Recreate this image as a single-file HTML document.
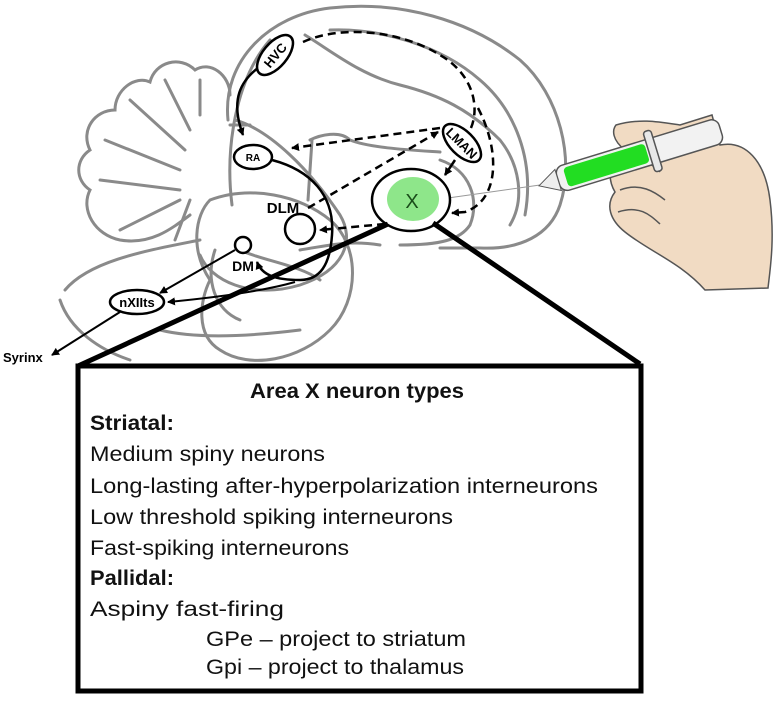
<!DOCTYPE html>
<html><head><meta charset="utf-8"><style>
html,body{margin:0;padding:0;background:#fff;}
svg{display:block}
</style></head><body>
<svg width="779" height="707" viewBox="0 0 779 707" xmlns="http://www.w3.org/2000/svg" font-family="Liberation Sans, sans-serif">
<defs>
<marker id="ah" markerWidth="8" markerHeight="8" refX="7" refY="4" orient="auto" markerUnits="userSpaceOnUse"><path d="M0,0 L8,4 L0,8 Z" fill="#000"/></marker>
</defs>
<g fill="none" stroke="#8a8a8a" stroke-width="3" stroke-linecap="round">
<path d="M228,120 C222,60 270,15 330,8 C400,0 470,20 520,60 C560,95 575,160 560,205 C550,235 520,250 480,248 L440,248"/>
<path d="M232,205 C225,150 235,80 270,40"/>
<path d="M305,35 C330,50 360,75 400,85 C440,95 470,110 500,140 C520,165 525,200 510,225"/>
<path d="M330,30 C380,28 440,45 480,80 C515,110 535,160 525,215"/>
<path d="M235,120 C270,130 310,170 340,215 C355,240 345,270 300,285 C250,300 210,280 200,255"/>
<path d="M310,140 C320,135 340,130 350,140 C370,148 410,150 440,152"/>
<path d="M312,140 L308,200"/>
<path d="M230,125 L250,125"/>
<path d="M440,160 C470,170 480,200 470,225 C460,240 440,245 400,245"/>
<path d="M300,250 C330,245 350,240 380,245"/>
<path d="M210,200 C250,185 300,195 330,220 C360,245 360,300 330,330 C300,360 250,370 220,350 C195,335 200,300 210,280 C190,250 195,215 210,200 Z"/>
<path d="M240,250 C260,260 300,265 320,280"/>
<path d="M215,250 C205,280 215,310 240,320"/>
<path d="M190,215 C170,230 150,245 120,240 C95,235 80,210 90,190 C75,180 75,160 90,150 C80,130 95,110 115,110 C115,90 135,75 150,82 C155,62 180,55 195,70 C210,60 230,75 230,95"/>
<path d="M180,190 L100,180 M180,170 L105,140 M185,150 L130,100 M190,130 L165,80 M200,115 L200,80 M180,200 L120,230 M190,200 L175,240"/>
<path d="M65,290 C90,260 150,250 200,240"/>
<path d="M60,300 C70,330 100,350 130,360"/>
<path d="M160,330 C200,340 260,335 300,330"/>
</g>
<g fill="none" stroke="#000" stroke-width="2.5">
<path d="M303,42 C340,25 400,30 440,55 C475,75 480,110 470,130" stroke-dasharray="8,5"/>
<path d="M262,65 C240,80 230,100 243,135" marker-end="url(#ah)"/>
<path d="M440,128 L292,148" stroke-dasharray="8,5" marker-end="url(#ah)"/>
<path d="M308,208 L438,132" stroke-dasharray="8,5" marker-end="url(#ah)"/>
<path d="M385,224 L320,230" stroke-dasharray="8,5" marker-end="url(#ah)"/>
<path d="M455,160 L445,175" marker-end="url(#ah)"/>
<path d="M478,108 C500,150 500,200 465,212 L452,213" stroke-dasharray="8,5" marker-end="url(#ah)"/>
<path d="M272,160 C310,170 335,195 332,235 C330,265 320,280 300,280" />
<path d="M300,280 C275,280 262,275 257,262" marker-end="url(#ah)"/>
<path d="M295,282 C260,292 210,298 168,302" stroke-width="2" marker-end="url(#ah)"/>
<path d="M235,250 L160,293" stroke-width="2" marker-end="url(#ah)"/>
<path d="M120,312 L52,355" stroke-width="2" marker-end="url(#ah)"/>
</g>
<line x1="448" y1="198" x2="540" y2="185" stroke="#999" stroke-width="1"/>
<path d="M616,125 C640,118 660,122 680,125 L712,115 L720,145 C745,140 765,160 770,200 C775,240 770,270 768,288 L705,290 C680,262 650,252 625,232 C610,220 605,205 615,192 C605,175 612,158 625,150 C612,140 612,130 616,125 Z" fill="#f1dbc3" stroke="#555" stroke-width="1.5"/>
<path d="M620,190 C640,182 655,192 665,200 M618,212 C640,205 650,215 660,224 M630,160 C640,158 655,165 660,172" fill="none" stroke="#555" stroke-width="1.5"/>
<g transform="rotate(-17 620 160)">
<rect x="555" y="148" width="170" height="26" rx="8" fill="#f2f2f2" stroke="#555" stroke-width="1.5"/>
<rect x="563" y="151" width="85" height="20" rx="4" fill="#22dd22"/>
<rect x="650" y="140" width="8" height="42" rx="3" fill="#e8e8e8" stroke="#555" stroke-width="1.5"/>
<path d="M555,150 L535,161 L555,172 Z" fill="#eee" stroke="#555"/>
</g>
<g stroke="#000" stroke-width="2.5" fill="#fff">
<ellipse cx="275" cy="55" rx="24" ry="12" transform="rotate(-50 275 55)"/>
<ellipse cx="253" cy="157" rx="19" ry="12"/>
<ellipse cx="462" cy="143" rx="24" ry="12" transform="rotate(45 462 143)"/>
<ellipse cx="411" cy="200" rx="39" ry="31"/>
<circle cx="300" cy="229" r="15"/>
<circle cx="243" cy="245" r="8"/>
<ellipse cx="137" cy="302" rx="27" ry="12"/>
</g>
<ellipse cx="413" cy="199" rx="26" ry="22" fill="#8ee68a"/>
<g font-weight="bold" fill="#000">
<text x="275" y="60" font-size="13" text-anchor="middle" transform="rotate(-50 275 55)">HVC</text>
<text x="253" y="161" font-size="10" text-anchor="middle">RA</text>
<text x="462" y="148" font-size="13" text-anchor="middle" transform="rotate(45 462 143)">LMAN</text>
<text x="412" y="208" font-size="20" text-anchor="middle" fill="#1a4d1a" font-weight="normal">X</text>
<text x="283" y="213" font-size="15" text-anchor="middle">DLM</text>
<text x="243" y="271" font-size="14" text-anchor="middle">DM</text>
<text x="137" y="307" font-size="13" text-anchor="middle">nXIIts</text>
<text x="3" y="362" font-size="13">Syrinx</text>
</g>
<line x1="388" y1="224" x2="78" y2="366" stroke="#000" stroke-width="5"/>
<line x1="433" y1="223" x2="640" y2="364" stroke="#000" stroke-width="5"/>
<rect x="78" y="366" width="563" height="325" fill="#fff" stroke="#000" stroke-width="5"/>
<g font-size="21" fill="#111" lengthAdjust="spacingAndGlyphs">
<text x="357" y="398" text-anchor="middle" font-weight="bold" textLength="214" lengthAdjust="spacingAndGlyphs">Area X neuron types</text>
<text x="90" y="430" font-weight="bold" textLength="84" lengthAdjust="spacingAndGlyphs">Striatal:</text>
<text x="90" y="461" textLength="235" lengthAdjust="spacingAndGlyphs">Medium spiny neurons</text>
<text x="90" y="493" textLength="508" lengthAdjust="spacingAndGlyphs">Long-lasting after-hyperpolarization  interneurons</text>
<text x="90" y="524" textLength="363" lengthAdjust="spacingAndGlyphs">Low threshold spiking interneurons</text>
<text x="90" y="555" textLength="259" lengthAdjust="spacingAndGlyphs">Fast-spiking interneurons</text>
<text x="90" y="585" font-weight="bold" textLength="84" lengthAdjust="spacingAndGlyphs">Pallidal:</text>
<text x="90" y="616" textLength="194" lengthAdjust="spacingAndGlyphs">Aspiny fast-firing</text>
<text x="206" y="646" textLength="260" lengthAdjust="spacingAndGlyphs">GPe – project to striatum</text>
<text x="206" y="674" textLength="258" lengthAdjust="spacingAndGlyphs">Gpi – project to thalamus</text>
</g>
</svg>
</body></html>
